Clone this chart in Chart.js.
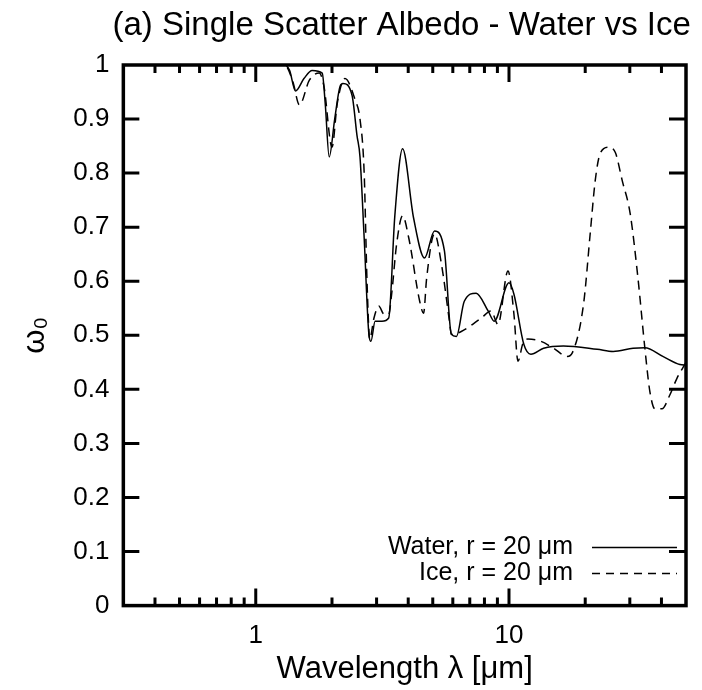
<!DOCTYPE html>
<html>
<head>
<meta charset="utf-8">
<script src="https://cdn.jsdelivr.net/npm/chart.js@4.4.0/dist/chart.umd.min.js"></script>
<style>
  body { margin: 0; background: #fff; }
  #wrap { width: 702px; height: 690px; }
</style>
</head>
<body>
<div id="wrap"><canvas id="albedo" width="702" height="690"></canvas></div>
<script>
'use strict';

// values (wavelength in um, single scatter albedo)
const waterX = [0.3, 1.3, 1.36, 1.435, 1.55, 1.67, 1.83, 1.88, 1.95, 2.05, 2.15, 2.21, 2.4, 2.51, 2.58, 2.68, 2.8, 2.85, 2.96, 3.15, 3.35, 3.54, 3.8, 4.2, 4.64, 5.08, 5.56, 5.92, 6.2, 6.66, 7.42, 8.27, 8.74, 10.0, 10.46, 11.45, 12.2, 13.7, 16.4, 22.3, 25.8, 30.9, 34.4, 40.5, 47.3, 50];
const waterY = [1.0, 1.0, 0.99, 0.952, 0.975, 0.99, 0.985, 0.93, 0.83, 0.9, 0.96, 0.966, 0.944, 0.87, 0.83, 0.68, 0.5, 0.489, 0.526, 0.526, 0.532, 0.72, 0.845, 0.717, 0.643, 0.693, 0.656, 0.502, 0.498, 0.563, 0.578, 0.545, 0.526, 0.597, 0.576, 0.483, 0.465, 0.476, 0.48, 0.474, 0.47, 0.476, 0.477, 0.461, 0.446, 0.445];

const iceX = [0.3, 1.3, 1.4, 1.488, 1.628, 1.78, 1.86, 2.0, 2.1, 2.25, 2.47, 2.58, 2.68, 2.75, 2.82, 2.93, 3.06, 3.21, 3.35, 3.44, 3.6, 3.8, 4.02, 4.44, 4.6, 4.73, 5.08, 5.41, 5.82, 5.92, 6.48, 7.77, 8.5, 9.05, 9.91, 10.46, 10.85, 11.35, 11.87, 13.35, 15.0, 17.0, 17.8, 19.7, 20.97, 21.9, 22.9, 24.7, 26.3, 28.0, 30.1, 32.3, 34.4, 36.0, 37.7, 40.2, 43.2, 46.0, 50];
const iceY = [1.0, 1.0, 0.97, 0.926, 0.972, 0.985, 0.96, 0.848, 0.93, 0.975, 0.935, 0.9, 0.8, 0.6, 0.493, 0.532, 0.554, 0.539, 0.539, 0.576, 0.669, 0.721, 0.68, 0.563, 0.541, 0.606, 0.688, 0.632, 0.526, 0.502, 0.507, 0.532, 0.545, 0.52, 0.619, 0.539, 0.452, 0.485, 0.493, 0.489, 0.476, 0.461, 0.468, 0.558, 0.693, 0.786, 0.836, 0.848, 0.838, 0.786, 0.725, 0.606, 0.476, 0.396, 0.364, 0.364, 0.39, 0.42, 0.45];

const xTicks = [0.3, 0.4, 0.5, 0.6, 0.7, 0.8, 0.9, 1, 2, 3, 4, 5, 6, 7, 8, 9, 10, 20, 30, 40, 50];
const xLabels = [1, 10];
const yTicks = [0, 0.1, 0.2, 0.3, 0.4, 0.5, 0.6, 0.7, 0.8, 0.9, 1];

const titleText = '(a) Single Scatter Albedo - Water vs Ice';
const FONT = '"Liberation Sans", Arial, Helvetica, sans-serif';

const toPoints = (xs, ys) => xs.map((x, i) => ({ x: x, y: ys[i] }));

// gnuplot style frame with ticks pointing inwards
const framePlugin = {
  id: 'frame',
  afterDatasetsDraw(chart) {
    const ctx = chart.ctx;
    const a = chart.chartArea;
    const xs = chart.scales.x;
    const ys = chart.scales.y;
    ctx.save();
    ctx.strokeStyle = '#000';
    ctx.lineWidth = 3;
    ctx.beginPath();
    xs.ticks.forEach(t => {
      if (t.value <= xs.min || t.value >= xs.max) return;
      const px = xs.getPixelForValue(t.value);
      const len = xLabels.includes(t.value) ? 17 : 8;
      ctx.moveTo(px, a.bottom); ctx.lineTo(px, a.bottom - len);
      ctx.moveTo(px, a.top); ctx.lineTo(px, a.top + len);
    });
    ys.ticks.forEach(t => {
      if (t.value <= ys.min || t.value >= ys.max) return;
      const py = ys.getPixelForValue(t.value);
      ctx.moveTo(a.left, py); ctx.lineTo(a.left + 16, py);
      ctx.moveTo(a.right, py); ctx.lineTo(a.right - 17, py);
    });
    ctx.stroke();
    ctx.lineWidth = 3.5;
    ctx.strokeRect(a.left, a.top, a.right - a.left, a.bottom - a.top);
    ctx.restore();
  }
};

// title centred over the plot box, not over the canvas
const titlePlugin = {
  id: 'plotTitle',
  afterDraw(chart) {
    const ctx = chart.ctx;
    const a = chart.chartArea;
    ctx.save();
    ctx.font = '33px ' + FONT;
    ctx.fillStyle = '#000';
    ctx.textAlign = 'center';
    ctx.textBaseline = 'middle';
    ctx.fillText(titleText, (a.left + a.right) / 2 - 3, 26);
    ctx.restore();
  }
};

// key in the lower right corner, text to the left of the sample line
const keyPlugin = {
  id: 'key',
  afterDraw(chart) {
    const ctx = chart.ctx;
    const a = chart.chartArea;
    ctx.save();
    ctx.font = '25px ' + FONT;
    ctx.fillStyle = '#000';
    ctx.textAlign = 'right';
    ctx.textBaseline = 'middle';
    chart.data.datasets.forEach((ds, i) => {
      const y = a.bottom - 58 + i * 26;
      ctx.fillText(ds.label, a.right - 113, y);
      ctx.strokeStyle = ds.borderColor;
      ctx.lineWidth = ds.borderWidth;
      ctx.setLineDash(ds.borderDash ? [8, 6] : []);
      ctx.beginPath();
      ctx.moveTo(a.right - 94, y);
      ctx.lineTo(a.right - 9, y);
      ctx.stroke();
    });
    ctx.restore();
  }
};

const ctx = document.getElementById('albedo');

new Chart(ctx, {
  type: 'line',
  data: {
    datasets: [{
      label: 'Water, r = 20 μm',
      data: toPoints(waterX, waterY),
      borderColor: '#000',
      borderWidth: 1.5,
      pointRadius: 0,
      cubicInterpolationMode: 'monotone'
    }, {
      label: 'Ice, r = 20 μm',
      data: toPoints(iceX, iceY),
      borderColor: '#000',
      borderWidth: 1.5,
      borderDash: [9, 6],
      pointRadius: 0,
      cubicInterpolationMode: 'monotone'
    }]
  },
  options: {
    responsive: false,
    animation: false,
    layout: { padding: { left: 12, right: 16, top: 65, bottom: 0 } },
    plugins: {
      legend: { display: false },
      tooltip: { enabled: false },
      title: { display: false }
    },
    scales: {
      x: {
        type: 'logarithmic',
        min: 0.3,
        max: 50,
        afterBuildTicks: scale => { scale.ticks = xTicks.map(v => ({ value: v })); },
        ticks: {
          autoSkip: false,
          maxRotation: 0,
          color: '#000',
          padding: 15,
          font: { family: FONT, size: 26 },
          callback: v => xLabels.includes(v) ? String(v) : ''
        },
        grid: { display: false, drawTicks: false },
        border: { display: false },
        title: {
          display: true,
          text: 'Wavelength λ [μm]',
          color: '#000',
          font: { family: FONT, size: 31 },
          padding: { top: -16, bottom: 2 }
        }
      },
      y: {
        min: 0,
        max: 1,
        afterBuildTicks: scale => { scale.ticks = yTicks.map(v => ({ value: v })); },
        ticks: {
          color: '#000',
          padding: 14,
          font: { family: FONT, size: 26 },
          callback: v => String(v)
        },
        grid: { display: false, drawTicks: false },
        border: { display: false },
        title: {
          display: true,
          text: 'ω₀',
          color: '#000',
          font: { family: FONT, size: 31 },
          padding: { top: 5, bottom: 5 }
        }
      }
    }
  },
  plugins: [framePlugin, titlePlugin, keyPlugin]
});
</script>
</body>
</html>
